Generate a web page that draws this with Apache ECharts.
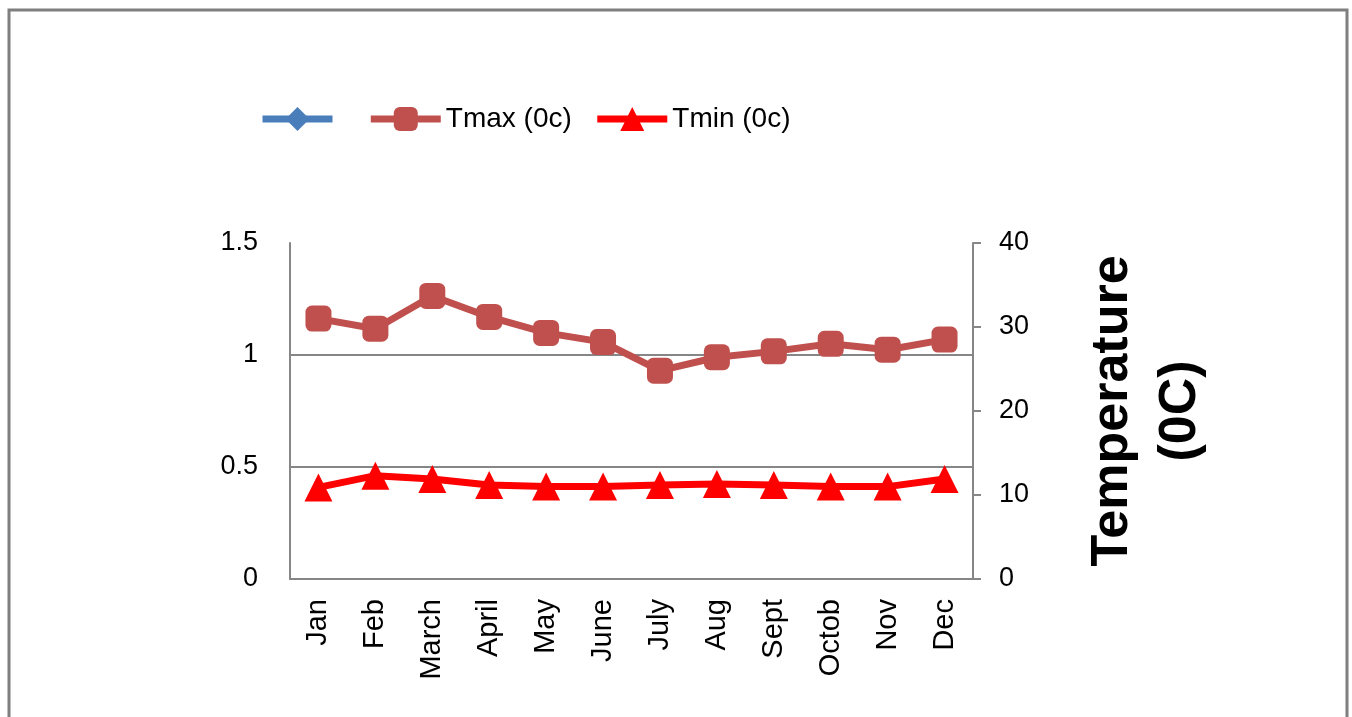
<!DOCTYPE html>
<html>
<head>
<meta charset="utf-8">
<script src="https://cdn.jsdelivr.net/npm/echarts@6/dist/echarts.min.js"></script>
<style>
  html, body { margin: 0; padding: 0; background: #fff; }
  #chart { width: 1352px; height: 717px; }
</style>
</head>
<body>
<div id="chart"></div>
<script>
const months = ['Jan', 'Feb', 'March', 'April', 'May', 'June', 'July', 'Aug', 'Sept', 'Octob', 'Nov', 'Dec']
const tmax = [31.0, 29.8, 33.7, 31.2, 29.3, 28.2, 24.8, 26.4, 27.1, 28.0, 27.3, 28.5]
const tmin = [10.9, 12.3, 11.9, 11.2, 11.0, 11.0, 11.2, 11.3, 11.2, 11.0, 11.0, 11.9]
const blank = []

const font = 'Liberation Sans'
const axisGray = '#868686'

const chart = echarts.init(document.getElementById('chart'))
const option = {
  backgroundColor: '#fff',
  animation: false,
  graphic: [{
    type: 'rect',
    shape: { x: 9, y: 10, width: 1338, height: 760 },
    style: { fill: 'none', stroke: '#7f7f7f', lineWidth: 3 }
  }],
  legend: {
    left: 254,
    top: 100,
    itemWidth: 70,
    itemHeight: 30,
    itemGap: 22,
    textStyle: { fontFamily: font, fontSize: 28, color: '#000' },
    lineStyle: { width: 7 },
    data: [' ', 'Tmax (0c)', 'Tmin (0c)']
  },
  grid: {
    left: 290,
    right: 379,
    top: 243,
    bottom: 138
  },
  xAxis: {
    type: 'category',
    data: months,
    boundaryGap: true,
    axisLine: { lineStyle: { color: axisGray, width: 2 } },
    axisTick: { show: false },
    axisLabel: {
      rotate: 90,
      margin: 20,
      interval: 0,
      fontFamily: font,
      fontSize: 29,
      color: '#000'
    }
  },
  yAxis: [{
    type: 'value',
    min: 0,
    max: 1.5,
    interval: 0.5,
    axisLine: { show: true, lineStyle: { color: axisGray, width: 2 } },
    axisTick: { show: false },
    axisLabel: {
      margin: 32,
      fontFamily: font,
      fontSize: 27,
      color: '#000',
      formatter: v => String(v)
    },
    splitLine: {
      show: true,
      showMaxLine: false,
      lineStyle: { color: axisGray, width: 2 }
    }
  }, {
    type: 'value',
    min: 0,
    max: 40,
    interval: 10,
    position: 'right',
    name: 'Temperature\n(0C)',
    nameLocation: 'middle',
    nameGap: 106,
    nameTextStyle: {
      fontFamily: font,
      fontSize: 52,
      fontWeight: 'bold',
      color: '#000',
      lineHeight: 68
    },
    axisLine: { show: true, lineStyle: { color: axisGray, width: 2 } },
    axisTick: { show: true, length: 8, lineStyle: { color: axisGray, width: 2 } },
    axisLabel: {
      margin: 26,
      fontFamily: font,
      fontSize: 27,
      color: '#000'
    },
    splitLine: { show: false }
  }],
  series: [{
    name: ' ',
    type: 'line',
    yAxisIndex: 0,
    data: blank,
    symbol: 'diamond',
    symbolSize: 16,
    lineStyle: { color: '#4a7ebb', width: 7 },
    itemStyle: { color: '#4a7ebb' }
  }, {
    name: 'Tmax (0c)',
    type: 'line',
    yAxisIndex: 1,
    data: tmax,
    symbol: 'roundRect',
    symbolSize: 26,
    lineStyle: { color: '#c0504d', width: 7 },
    itemStyle: { color: '#c0504d' }
  }, {
    name: 'Tmin (0c)',
    type: 'line',
    yAxisIndex: 1,
    data: tmin,
    symbol: 'triangle',
    symbolSize: [28, 28],
    lineStyle: { color: '#ff0000', width: 7 },
    itemStyle: { color: '#ff0000' }
  }]
}
chart.setOption(option)
</script>
</body>
</html>
